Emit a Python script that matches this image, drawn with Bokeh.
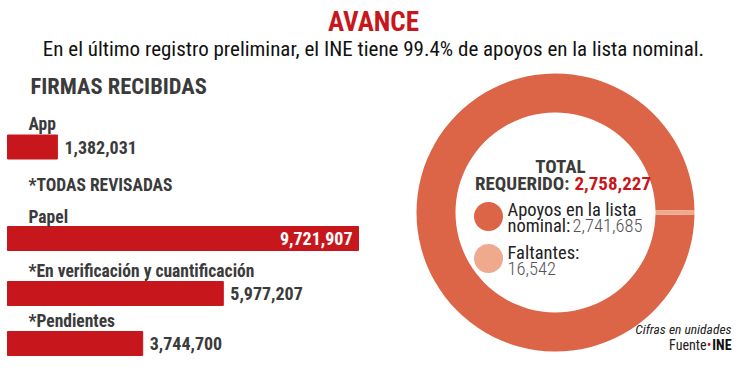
import numpy as np
from bokeh.plotting import figure
from bokeh.models import Range1d, ColumnDataSource
from bokeh.core.properties import value
from bokeh.embed import file_html
from bokeh.resources import INLINE

# ---- data ----
categories = ["App", "Papel", "*En verificación y cuantificación", "*Pendientes"]
firmas = [1382031, 9721907, 5977207, 3744700]
firmas_labels = ["1,382,031", "9,721,907", "5,977,207", "3,744,700"]
donut_names = ["Apoyos en la lista nominal", "Faltantes"]
donut_values = [2741685, 16542]
donut_labels = ["2,741,685", "16,542"]
total_requerido = "2,758,227"

FONT = "Roboto Condensed"
LIGHTFONT = "Roboto Condensed Light"
DARK = "#3b3b3b"
RED = "#c8171c"
RING = "#dc6447"
LIGHT = "#efa98c"

W, H = 734, 359
k = max(firmas) / 351.0
p = figure(width=W, height=H, output_backend="svg", toolbar_location=None,
           x_range=Range1d(-7 * k, (W - 7) * k), y_range=Range1d(H, 0),
           min_border=0, outline_line_color=None)
p.axis.visible = False
p.grid.visible = False
p.extra_x_ranges = {"px": Range1d(0, W)}

def txt(x, y, t, size, color=DARK, style="normal", align="left", font=FONT):
    p.text(x=[x], y=[y], text=[t], x_range_name="px", text_font=value(font),
           text_font_size=f"{size}px", text_color=color, text_font_style=style,
           text_align=align, text_baseline="middle")

# titles
txt(373, 21, "AVANCE", 27, color=RED, style="bold", align="center")
txt(373, 48, "En el último registro preliminar, el INE tiene 99.4% de apoyos en la lista nominal.", 21, color="#111111", align="center")
txt(30, 85, "FIRMAS RECIBIDAS", 22.5, color=DARK, style="bold")

# bars
bar_y = [146.5, 238, 293, 343]
label_y = [123, 216, 270, 320]
src = ColumnDataSource(dict(y=bar_y, right=firmas))
p.hbar(y="y", left=0, right="right", height=24, source=src, color=RED)

# category labels
p.text(x=[28] * len(categories), y=label_y, text=categories, x_range_name="px",
       text_font=value(FONT), text_font_size="17.5px", text_font_style="bold",
       text_color=DARK, text_baseline="middle")
txt(28, 184, "*TODAS REVISADAS", 17.5, style="bold")

# value labels
big = int(np.argmax(firmas))
out_idx = [i for i in range(len(firmas)) if i != big]
p.text(x=[firmas[i] for i in out_idx], y=[bar_y[i] for i in out_idx],
       text=[firmas_labels[i] for i in out_idx], x_offset=7,
       text_font=value(FONT), text_font_size="18px", text_font_style="bold",
       text_color=DARK, text_baseline="middle")
p.text(x=[firmas[big]], y=[bar_y[big]], text=[firmas_labels[big]], x_offset=-6,
       text_font=value(FONT), text_font_size="18px", text_font_style="bold",
       text_color="white", text_baseline="middle", text_align="right")

# donut
vals = np.array(donut_values, dtype=float)
frac = vals / vals.sum()
half = frac[1] * np.pi
starts = [half, -half]
ends = [2 * np.pi - half, half]
p.annular_wedge(x=[555] * 2, y=[212] * 2, inner_radius=100, outer_radius=139,
                inner_radius_units="screen", outer_radius_units="screen",
                start_angle=starts, end_angle=ends, color=[RING, LIGHT],
                x_range_name="px", line_color=None)

# donut texts
txt(560, 166, "TOTAL", 19, style="bold", align="center")
txt(569, 183, "REQUERIDO:", 19, style="bold", align="right")
txt(574, 183, total_requerido, 19, color=RED, style="bold")
p.scatter(x=[488, 488], y=[216, 258], size=29, color=[RING, LIGHT], x_range_name="px", line_color=None)
txt(507, 209, "Apoyos en la lista", 18.5, color="#222222")
txt(507, 225, "nominal:", 18.5, color="#222222")
txt(572, 225, donut_labels[0], 18.5, color="#555555", font=LIGHTFONT)
txt(507, 252, "Faltantes:", 18.5, color="#222222")
txt(507, 268, donut_labels[1], 18.5, color="#555555", font=LIGHTFONT)

# footer
txt(731, 328, "Cifras en unidades", 13.5, color="#222222", style="italic", align="right")
txt(731, 344, "INE", 14, color="#111111", style="bold", align="right")
txt(711, 344, "•", 14, color=RED, align="right")
txt(706, 344, "Fuente", 14, color="#222222", align="right")

open("out.html", "w").write(file_html(p, INLINE))
